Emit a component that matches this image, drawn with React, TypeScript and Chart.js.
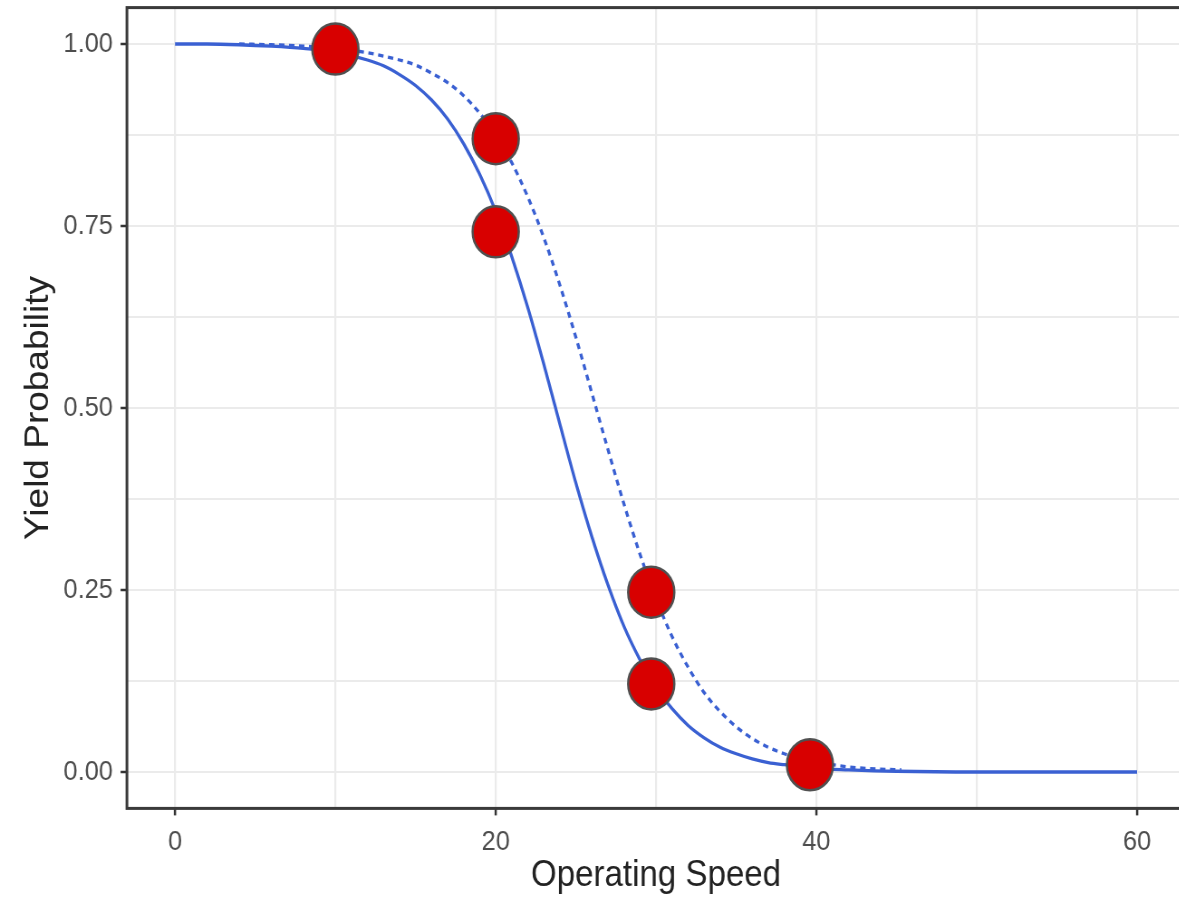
import React, { useEffect, useRef } from 'react';
import { Chart, registerables } from 'chart.js';

Chart.register(...registerables);

// ---- data ----
const solidX = [0, 2, 4, 6, 8, 10, 12, 13, 14, 15, 16, 17, 18, 19, 20, 21, 22, 23, 24, 25, 26, 27, 28, 29, 30, 31, 32, 33, 34, 35, 36, 37, 38, 40, 42, 45, 50, 55, 60];
const solidY = [1.0, 1.0, 0.999, 0.997, 0.994, 0.989, 0.978, 0.97, 0.958, 0.943, 0.923, 0.897, 0.863, 0.821, 0.77, 0.708, 0.638, 0.56, 0.478, 0.397, 0.323, 0.257, 0.2, 0.154, 0.116, 0.087, 0.064, 0.047, 0.034, 0.025, 0.018, 0.013, 0.01, 0.005, 0.003, 0.001, 0.0, 0.0, 0.0];

const dashedX = [4, 6, 8, 10, 12, 14, 15, 16, 17, 18, 19, 20, 21, 22, 23, 24, 25, 26, 27, 28, 29, 30, 31, 32, 33, 34, 35, 36, 37, 38, 39, 40, 42, 44, 45.3];
const dashedY = [1.0, 0.999, 0.997, 0.994, 0.988, 0.978, 0.971, 0.96, 0.947, 0.929, 0.905, 0.875, 0.837, 0.79, 0.734, 0.669, 0.597, 0.52, 0.443, 0.368, 0.299, 0.238, 0.186, 0.144, 0.109, 0.083, 0.062, 0.046, 0.034, 0.025, 0.019, 0.014, 0.007, 0.004, 0.003];

const markerX = [10, 20, 20, 29.7, 29.7, 39.6];
const markerY = [0.993, 0.87, 0.742, 0.247, 0.121, 0.01];

const xTickValues = [0, 10, 20, 30, 40, 50, 60];
const xLabelValues = [0, 20, 40, 60];
const yTickValues = [0, 0.125, 0.25, 0.375, 0.5, 0.625, 0.75, 0.875, 1];
const yLabelValues = [0, 0.25, 0.5, 0.75, 1];

const xTitle = 'Operating Speed';
const yTitle = 'Yield Probability';

// ---- layout (canvas space; canvas is squeezed horizontally) ----
const SX = 0.906;
const CANVAS_W = 1320;
const CANVAS_H = 903;
const FONT = "'Liberation Sans', Arial, sans-serif";

const isIn = (arr: number[], v: number) => arr.some((a) => Math.abs(a - v) < 1e-6);

const clearPadding = (s: any) => {
  s.paddingTop = 0;
  s.paddingBottom = 0;
  s.paddingLeft = 0;
  s.paddingRight = 0;
};

const framePlugin = {
  id: 'frame',
  afterDatasetsDraw(chart: any) {
    const { ctx, chartArea } = chart;
    ctx.save();
    ctx.strokeStyle = '#3a3a3a';
    ctx.lineWidth = 3;
    ctx.strokeRect(chartArea.left, chartArea.top, chartArea.right - chartArea.left, chartArea.bottom - chartArea.top);
    ctx.restore();
  },
};

export default function App() {
  const ref = useRef<HTMLCanvasElement | null>(null);

  useEffect(() => {
    if (!ref.current) return;
    const chart = new Chart(ref.current, {
      type: 'scatter',
      data: {
        datasets: [
          {
            label: 'markers',
            order: 0,
            data: markerX.map((x, i) => ({ x, y: markerY[i] })),
            pointRadius: 25.5,
            pointBorderWidth: 2.5,
            pointBackgroundColor: '#D80000',
            pointBorderColor: '#505050',
            showLine: false,
          },
          {
            label: 'solid',
            order: 1,
            data: solidX.map((x, i) => ({ x, y: solidY[i] })),
            showLine: true,
            borderColor: '#3A60D2',
            borderWidth: 3.3,
            pointRadius: 0,
            cubicInterpolationMode: 'monotone',
          },
          {
            label: 'dashed',
            order: 2,
            data: dashedX.map((x, i) => ({ x, y: dashedY[i] })),
            showLine: true,
            borderColor: '#3A60D2',
            borderWidth: 3.3,
            borderDash: [6, 5],
            pointRadius: 0,
            cubicInterpolationMode: 'monotone',
          },
        ],
      },
      options: {
        animation: false,
        responsive: false,
        devicePixelRatio: 1,
        layout: { autoPadding: false, padding: { left: 0, right: CANVAS_W - 1308.1, top: 7.6, bottom: 0 } },
        plugins: { legend: { display: false }, tooltip: { enabled: false } },
        scales: {
          x: {
            type: 'linear',
            min: -3,
            max: 63,
            afterBuildTicks: (s: any) => {
              s.ticks = xTickValues.map((v) => ({ value: v }));
            },
            afterFit: (s: any) => {
              s.height = CANVAS_H - 808.4;
              clearPadding(s);
            },
            border: { display: false },
            grid: {
              color: '#ebebeb',
              lineWidth: 2.2,
              tickLength: 7,
              tickWidth: 2.5,
              tickColor: (c: any) => (c.tick && isIn(xLabelValues, c.tick.value) ? '#333' : 'rgba(0,0,0,0)'),
            },
            ticks: {
              autoSkip: false,
              maxRotation: 0,
              padding: 10,
              color: '#4d4d4d',
              font: { family: FONT, size: 28 },
              callback: (v: any) => (isIn(xLabelValues, Number(v)) ? String(v) : ''),
            },
            title: {
              display: true,
              text: xTitle,
              color: '#222',
              font: { family: FONT, size: 36.5 },
              padding: { top: 0, bottom: 5 },
            },
          },
          y: {
            type: 'linear',
            min: -0.05,
            max: 1.05,
            afterBuildTicks: (s: any) => {
              s.ticks = yTickValues.map((v) => ({ value: v }));
            },
            afterFit: (s: any) => {
              s.width = 140.1;
              clearPadding(s);
            },
            border: { display: false },
            grid: {
              color: '#ebebeb',
              lineWidth: 2,
              tickLength: 7,
              tickWidth: 2.5,
              tickColor: (c: any) => (c.tick && isIn(yLabelValues, c.tick.value) ? '#333' : 'rgba(0,0,0,0)'),
            },
            ticks: {
              autoSkip: false,
              padding: 8.5,
              color: '#4d4d4d',
              font: { family: FONT, size: 28 },
              callback: (v: any) => (isIn(yLabelValues, Number(v)) ? Number(v).toFixed(2) : ''),
            },
            title: {
              display: true,
              text: yTitle,
              color: '#222',
              font: { family: FONT, size: 37 },
              padding: { top: 21, bottom: 0 },
            },
          },
        },
      },
      plugins: [framePlugin],
    } as any);
    return () => chart.destroy();
  }, []);

  return (
    <div style={{ position: 'fixed', left: 0, top: 0, width: 1179, height: 903, overflow: 'hidden', background: '#fff' }}>
      <div style={{ width: CANVAS_W, height: CANVAS_H, transform: `scaleX(${SX})`, transformOrigin: '0 0' }}>
        <canvas ref={ref} width={CANVAS_W} height={CANVAS_H} style={{ display: 'block', width: CANVAS_W, height: CANVAS_H }} />
      </div>
    </div>
  );
}
